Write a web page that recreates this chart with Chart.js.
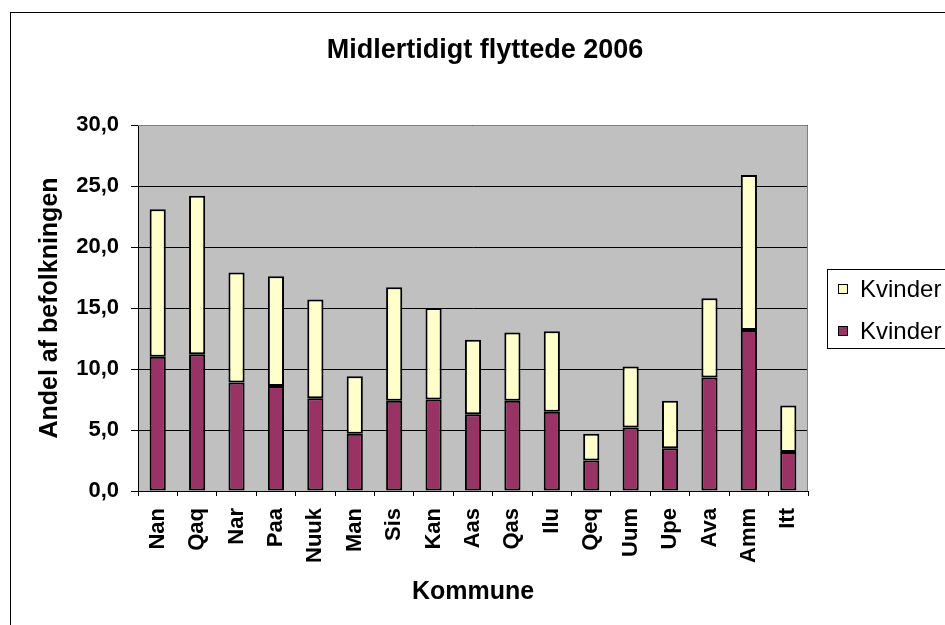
<!DOCTYPE html>
<html>
<head>
<meta charset="utf-8">
<title>Midlertidigt flyttede 2006</title>
<script src="https://cdn.jsdelivr.net/npm/chart.js@4/dist/chart.umd.min.js"></script>
<style>
    html, body { margin: 0; padding: 0; background: #fff; overflow: hidden; }
    #wrap { width: 945px; height: 625px; }
</style>
</head>
<body>
<div id="wrap"><canvas id="flyttede" width="945" height="625"></canvas></div>
<script>
// Andel af befolkningen, kvinder, per kommune (procent)
const kommuner = ["Nan", "Qaq", "Nar", "Paa", "Nuuk", "Man", "Sis", "Kan", "Aas", "Qas", "Ilu", "Qeq", "Uum", "Upe", "Ava", "Amm", "Itt"]
const kvinderNederst = [11.0, 11.2, 8.9, 8.6, 7.6, 4.7, 7.4, 7.5, 6.3, 7.4, 6.5, 2.5, 5.2, 3.5, 9.3, 13.2, 3.2]
const kvinderOverst = [12.1, 13.0, 9.0, 9.0, 8.1, 4.7, 9.3, 7.5, 6.1, 5.6, 6.6, 2.2, 5.0, 3.9, 6.5, 12.7, 3.8]
const serieNavne = ["Kvinder", "Kvinder"]
const titel = "Midlertidigt flyttede 2006"

const fontFamily = "Arial, 'Liberation Sans', sans-serif"
const plotBg = "#C0C0C0"
const maroon = "#993366"
const paleYellow = "#FFFFCC"

// Background, outer frame, title and the boxed legend on the right
const chartFrame = {
    id: "chartFrame",
    beforeDraw(chart) {
        const {ctx, chartArea: a} = chart
        ctx.save()
        ctx.fillStyle = "#fff"
        ctx.fillRect(0, 0, chart.width, chart.height)
        ctx.fillStyle = plotBg
        ctx.fillRect(a.left, a.top, a.right - a.left, a.bottom - a.top)
        ctx.restore()
    },
    beforeDatasetsDraw(chart) {
        const {ctx, chartArea: a} = chart
        ctx.save()
        ctx.strokeStyle = "#808080"
        ctx.lineWidth = 1
        ctx.beginPath()
        ctx.moveTo(a.left, a.top + 0.5)
        ctx.lineTo(a.right - 0.5, a.top + 0.5)
        ctx.lineTo(a.right - 0.5, a.bottom)
        ctx.stroke()
        ctx.restore()
    },
    afterDraw(chart) {
        const {ctx} = chart
        ctx.save()
        ctx.strokeStyle = "#000"
        ctx.lineWidth = 1
        ctx.strokeRect(10.5, 12.5, 1000, 1000)

        ctx.fillStyle = "#000"
        ctx.font = "bold 27px " + fontFamily
        ctx.textAlign = "center"
        ctx.textBaseline = "middle"
        ctx.fillText(titel, 485, 51)

        // legend, top series listed first like the stack order
        ctx.strokeRect(827.5, 269.5, 200, 79)
        ctx.font = "24px " + fontFamily
        ctx.textAlign = "left"
        const sets = chart.data.datasets.slice().reverse()
        sets.forEach((ds, i) => {
            const y = 289 + i * 42
            ctx.fillStyle = ds.backgroundColor
            ctx.fillRect(838.5, y - 4.5, 9, 9)
            ctx.strokeRect(838.5, y - 4.5, 9, 9)
            ctx.fillStyle = "#000"
            ctx.fillText(ds.label, 860, y + 1)
        })
        ctx.restore()
    }
}

new Chart(document.getElementById("flyttede").getContext("2d"), {
    type: "bar",
    data: {
        labels: kommuner,
        datasets: [
            {
                label: serieNavne[1],
                data: kvinderNederst,
                backgroundColor: maroon,
                borderColor: "#000",
                borderWidth: 2,
                borderSkipped: false
            },
            {
                label: serieNavne[0],
                data: kvinderOverst,
                backgroundColor: paleYellow,
                borderColor: "#000",
                borderWidth: 2,
                borderSkipped: false
            }
        ]
    },
    options: {
        responsive: false,
        animation: false,
        events: [],
        layout: {
            padding: {top: 125, left: 10, right: 137, bottom: 0}
        },
        datasets: {
            bar: {barPercentage: 0.41, categoryPercentage: 1.0}
        },
        scales: {
            x: {
                stacked: true,
                afterFit: s => { s.height = 134 },
                grid: {
                    offset: true,
                    drawOnChartArea: false,
                    drawTicks: true,
                    tickLength: 5,
                    color: "#000"
                },
                border: {color: "#000", width: 1},
                ticks: {
                    autoSkip: false,
                    minRotation: 90,
                    maxRotation: 90,
                    padding: 12,
                    color: "#000",
                    font: {family: fontFamily, size: 22, weight: "bold"}
                },
                title: {
                    display: true,
                    text: "Kommune",
                    color: "#000",
                    font: {family: fontFamily, size: 25, weight: "bold"},
                    padding: {top: 0, bottom: 18}
                }
            },
            y: {
                stacked: true,
                min: 0,
                max: 30,
                afterFit: s => { s.width = 128 },
                grid: {
                    color: "#000",
                    lineWidth: 1,
                    drawTicks: true,
                    tickLength: 7
                },
                border: {color: "#000", width: 1},
                ticks: {
                    stepSize: 5,
                    padding: 12,
                    color: "#000",
                    font: {family: fontFamily, size: 22, weight: "bold"},
                    callback: v => v.toFixed(1).replace(".", ",")
                },
                title: {
                    display: true,
                    text: "Andel af befolkningen",
                    color: "#000",
                    font: {family: fontFamily, size: 25, weight: "bold"},
                    padding: {top: 25, bottom: 0}
                }
            }
        },
        plugins: {
            legend: {display: false},
            title: {display: false},
            tooltip: {enabled: false}
        }
    },
    plugins: [chartFrame]
})
</script>
</body>
</html>
